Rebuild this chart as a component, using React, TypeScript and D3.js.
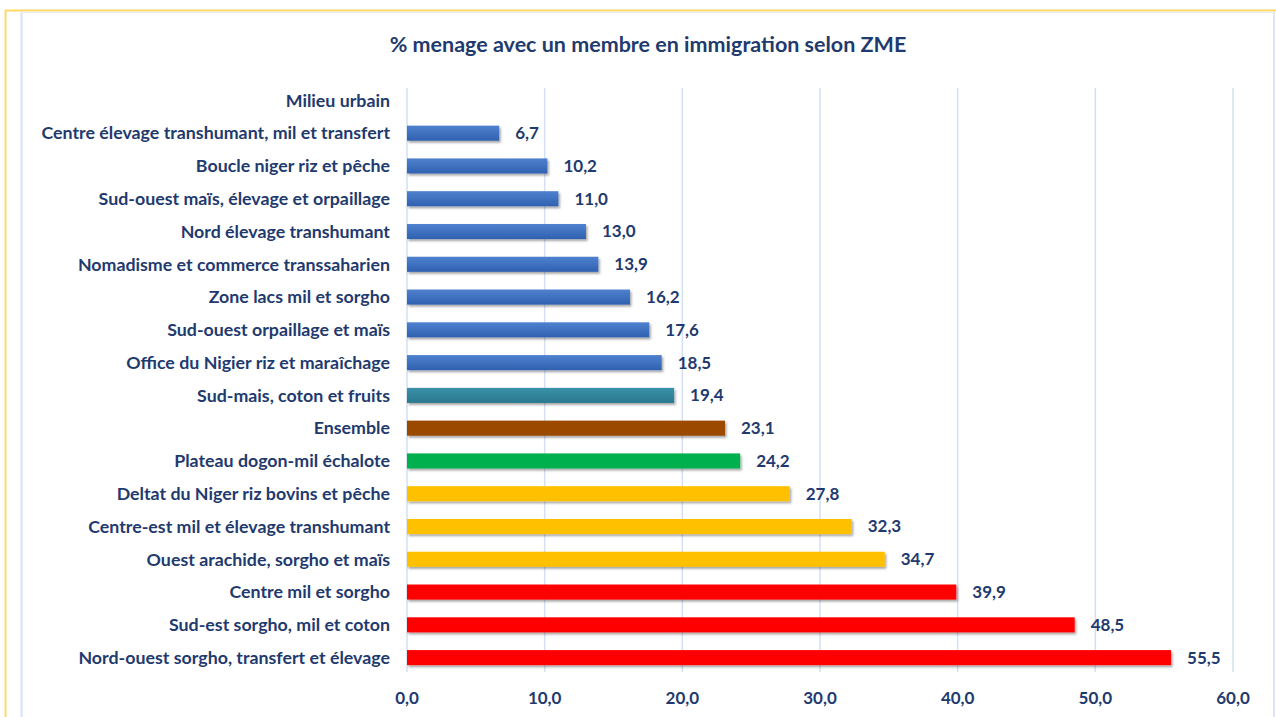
import React from "react";
import * as d3 from "d3";

const categories = [
  "Milieu urbain",
  "Centre élevage transhumant, mil et transfert",
  "Boucle niger riz et pêche",
  "Sud-ouest maïs, élevage et orpaillage",
  "Nord élevage transhumant",
  "Nomadisme et commerce transsaharien",
  "Zone lacs mil et sorgho",
  "Sud-ouest orpaillage et maïs",
  "Office du Nigier riz et maraîchage",
  "Sud-mais, coton et fruits",
  "Ensemble",
  "Plateau dogon-mil échalote",
  "Deltat du Niger riz bovins et pêche",
  "Centre-est mil et élevage transhumant",
  "Ouest arachide, sorgho et maïs",
  "Centre mil et sorgho",
  "Sud-est sorgho, mil et coton",
  "Nord-ouest sorgho, transfert et élevage",
];
const values: (number | null)[] = [
  null, 6.7, 10.2, 11.0, 13.0, 13.9, 16.2, 17.6, 18.5, 19.4, 23.1, 24.2, 27.8, 32.3, 34.7, 39.9, 48.5, 55.5,
];
const barColors = [
  "#3E70BE", "#3E70BE", "#3E70BE", "#3E70BE", "#3E70BE", "#3E70BE", "#3E70BE", "#3E70BE", "#3E70BE",
  "#31849B", "#9C4A06", "#00B050", "#FFC000", "#FFC000", "#FFC000", "#FF0000", "#FF0000", "#FF0000",
];
const ticks = [0, 10, 20, 30, 40, 50, 60];
const title = "% menage avec un membre en immigration selon ZME";

const W = 1276;
const H = 717;
const textColor = "#1F3A6E";
const font = "Lato, 'Open Sans', sans-serif";

export default function App() {
  const x = d3.scaleLinear().domain([0, 60]).range([407, 1233]);
  const y = d3.scaleBand<string>().domain(categories).range([84, 674]).paddingInner(0.54).paddingOuter(0.27);
  const fmt = (v: number) => v.toFixed(1).replace(".", ",");
  const bw = y.bandwidth();
  return (
    <svg
      width={W}
      height={H}
      style={{ position: "absolute", left: 0, top: 0, background: "#fff" }}
      fontFamily={font}
    >
      <defs>
        <filter id="sh" x="-5%" y="-30%" width="110%" height="180%">
          <feDropShadow dx="1.5" dy="2" stdDeviation="1.2" floodColor="#000" floodOpacity="0.35" />
        </filter>
        <linearGradient id="blueg" x1="0" y1="0" x2="0" y2="1">
          <stop offset="0" stopColor="#4F81CF" />
          <stop offset="1" stopColor="#2F61B0" />
        </linearGradient>
        <linearGradient id="tealg" x1="0" y1="0" x2="0" y2="1">
          <stop offset="0" stopColor="#3A91A8" />
          <stop offset="1" stopColor="#2A7890" />
        </linearGradient>
      </defs>
      <rect x={0} y={0} width={W} height={H} fill="#fff" />
      {/* outer yellow frame */}
      <line x1={5} y1={10.5} x2={W} y2={10.5} stroke="#FFD966" strokeWidth={2} />
      <line x1={5.5} y1={10} x2={5.5} y2={H} stroke="#FFD966" strokeWidth={2} />
      {/* inner light frame */}
      <line x1={21.5} y1={12} x2={21.5} y2={H} stroke="#D6E2F5" strokeWidth={2} />
      <line x1={1274} y1={12} x2={1274} y2={H} stroke="#DCE5F5" strokeWidth={2} />
      <line x1={21} y1={12.5} x2={1274} y2={12.5} stroke="#E4ECF8" strokeWidth={1} />

      <text x={648} y={52} textAnchor="middle" fontSize={21.5} fontWeight={700} fill={textColor}>
        {title}
      </text>

      {ticks.map((t) => (
        <line key={t} x1={x(t)} x2={x(t)} y1={88} y2={672} stroke="#D5DFF2" strokeWidth={1.5} />
      ))}

      {categories.map((c, i) => {
        const v = values[i];
        const yy = y(c)!;
        const fill = barColors[i] === "#3E70BE" ? "url(#blueg)" : barColors[i] === "#31849B" ? "url(#tealg)" : barColors[i];
        return (
          <g key={c}>
            <text x={390} y={yy + bw / 2} dy="0.35em" textAnchor="end" fontSize={17.8} fontWeight={700} fill={textColor}>
              {c}
            </text>
            {v !== null && (
              <>
                <rect x={x(0)} y={yy} width={x(v) - x(0)} height={bw} fill={fill} filter="url(#sh)" />
                <text x={x(v) + 16} y={yy + bw / 2} dy="0.35em" fontSize={17} fontWeight={700} fill={textColor}>
                  {fmt(v)}
                </text>
              </>
            )}
          </g>
        );
      })}

      {ticks.map((t) => (
        <text key={t} x={x(t)} y={698} dy="0.35em" textAnchor="middle" fontSize={17} fontWeight={700} fill={textColor}>
          {fmt(t)}
        </text>
      ))}
    </svg>
  );
}
